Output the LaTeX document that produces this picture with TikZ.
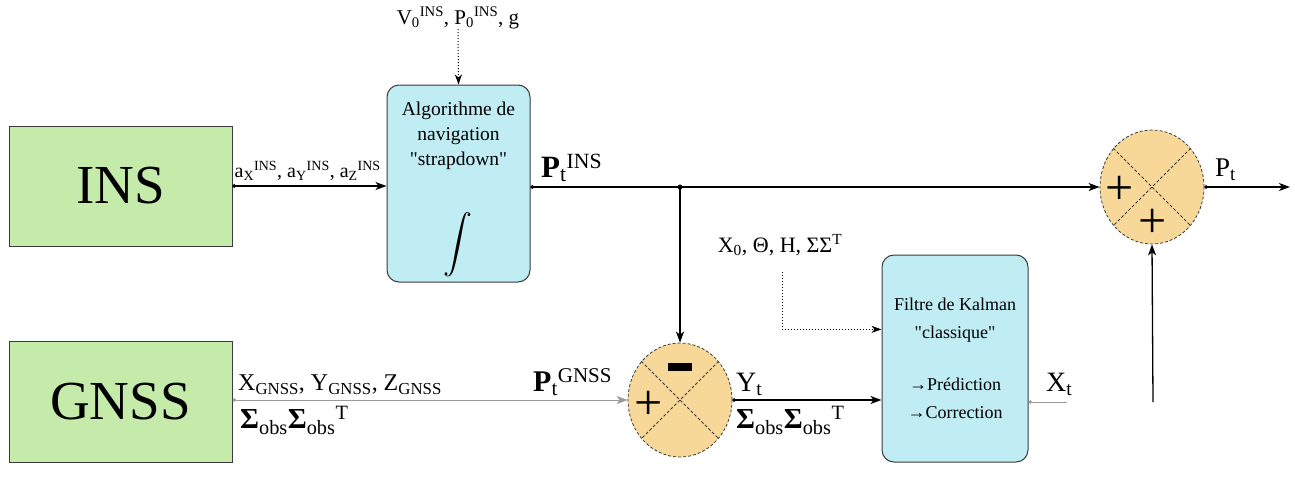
\documentclass[tikz,border=0pt]{standalone}
\usepackage{fontspec}
\setmainfont{Liberation Serif}
\usepackage{graphicx}
\usepackage{tikz}
\usetikzlibrary{
    arrows.meta,
    positioning,
    shapes.geometric,
    calc
}
\definecolor{sensorgreen}{HTML}{C4EBAA}
\definecolor{blockblue}{HTML}{C0ECF3}
\definecolor{sumorange}{HTML}{F8D898}
\definecolor{borderdark}{HTML}{3A3A3A}
\definecolor{wiregray}{HTML}{9A9A9A}
\tikzset{
    sensor/.style={
        rectangle, draw=borderdark, fill=sensorgreen,
        line width=1pt, minimum width=223pt, minimum height=120pt,
        inner sep=0pt, font=\fontsize{55}{55}\selectfont
    },
    process/.style={
        rectangle, draw=borderdark, fill=blockblue,
        line width=1pt, rounded corners=12pt, align=center,
        inner sep=0pt, font=\fontsize{19.5}{25}\selectfont
    },
    summer/.style={
        ellipse, draw=borderdark, densely dashed, fill=sumorange,
        line width=0.8pt, minimum width=104pt, minimum height=114pt,
        inner sep=0pt
    },
    data flow/.style={
        {Circle[length=3.5pt]}-{Stealth[length=11pt, width=8pt, inset=3pt]},
        line width=1.3pt, color=#1
    },
    data flow/.default={black},
    plain flow/.style={
        -{Stealth[length=11pt, width=8pt, inset=3pt]}, line width=1.3pt
    },
    param flow/.style={
        -{Stealth[length=10pt, width=7pt, inset=3pt]}, dotted, line width=1pt
    },
    sig text/.style={inner sep=0pt, font=\fontsize{#1}{#1}\selectfont},
    sig text/.default={20},
    sign/.style={inner sep=0pt, font=\fontsize{50}{50}\selectfont},
}

\begin{document}
\begin{tikzpicture}[x=1pt, y=-1pt]
    \useasboundingbox (0,0) rectangle (1295,477);

    % Sensors
    \node[sensor] (ins) at (120.5,186) {INS};
    \node[sensor, minimum height=121pt] (gnss) at (120.5,401.5) {GNSS};

    % Navigation and filter blocks
    \node[process, minimum width=143pt, minimum height=197pt] (algo) at (458.5,183.5) {};
    \node[process, draw=none, fill=none, below=17pt of algo.north] (algotext)
        {Algorithme de\\navigation\\\textquotedbl strapdown\textquotedbl};
    \node[inner sep=0pt] (integral) at (458,245) {\scalebox{2.9}{$\displaystyle\int$}};
    \node[process, minimum width=146pt, minimum height=207pt,
          font=\fontsize{18}{28}\selectfont] (kalman) at (955,358.5)
        {Filtre de Kalman\\\textquotedbl classique\textquotedbl\\[24pt]→Prédiction\\→Correction};

    % Summing junctions
    \node[summer] (sumgnss) at (680,400) {};
    \node[summer] (sumout) at (1152,187) {};
    \foreach \s in {sumgnss, sumout} {
        \draw[densely dashed, line width=0.8pt, borderdark] (\s.45) -- (\s.225);
        \draw[densely dashed, line width=0.8pt, borderdark] (\s.135) -- (\s.315);
    }
    \node[sign] (gplus) at (649,405) {+};
    \node[inner sep=0pt] (gminus) at (680,367) {\rule{24pt}{8pt}};
    \node[sign] (oplusl) at (1120,190) {+};
    \node[sign] (oplusb) at (1153,223) {+};

    % Signal labels
    \node[sig text=21] (initlabel) at (458,18)
        {V\textsubscript{0}\textsuperscript{INS}, P\textsubscript{0}\textsuperscript{INS}, g};
    \node[sig text=20, above right=5pt and 2pt of ins.east] (acclabel)
        {a\textsubscript{X}\textsuperscript{INS}, a\textsubscript{Y}\textsuperscript{INS}, a\textsubscript{Z}\textsuperscript{INS}};
    \node[sig text=31, anchor=south west] (pinslabel) at (541,182)
        {\textbf{P}\textsubscript{t}\textsuperscript{INS}};
    \node[sig text=22] (kflabel) at (780,245)
        {X\textsubscript{0}, Θ, H, ΣΣ\textsuperscript{T}};
    \node[sig text=24, anchor=south west] (gnsslabel) at (238,395)
        {X\textsubscript{GNSS}, Y\textsubscript{GNSS}, Z\textsubscript{GNSS}};
    \node[sig text=29, anchor=north west] (covlabel) at (240,406)
        {\textbf{Σ}\textsubscript{obs}\textbf{Σ}\textsubscript{obs}\textsuperscript{T}};
    \node[sig text=30, anchor=south west] (pgnsslabel) at (533,396)
        {\textbf{P}\textsubscript{t}\textsuperscript{GNSS}};
    \node[sig text=28, anchor=south west] (ylabel) at (736,396) {Y\textsubscript{t}};
    \node[sig text=29, anchor=north west] (covylabel) at (736,406)
        {\textbf{Σ}\textsubscript{obs}\textbf{Σ}\textsubscript{obs}\textsuperscript{T}};
    \node[sig text=28, anchor=south west] (xlabel) at (1046,396) {X\textsubscript{t}};
    \node[sig text=27, anchor=south west] (plabel) at (1215,181) {P\textsubscript{t}};

    % Free ends
    \coordinate (split) at (sumgnss |- sumout);
    \coordinate (kfin) at (782,272);
    \coordinate (xout) at (1067,402);
    \coordinate (pin) at (1153,402);
    \coordinate (pout) at (1290,187);

    % Flows
    \draw[data flow] (ins.east) -- (ins.east -| algo.west);
    \draw[param flow] (initlabel.south) -- (algo.north);
    \draw[data flow] (algo.east |- sumout.west) -- (sumout.west);
    \fill (split) circle (2.5pt);
    \draw[plain flow] (split) -- (sumgnss.north);
    \draw[data flow=wiregray, line width=0.8pt] (gnss.east |- sumgnss.west) -- (sumgnss.west);
    \draw[data flow] (sumgnss.east) -- (sumgnss.east -| kalman.west);
    \draw[param flow] (kfin) |- ($(kalman.north west)!0.36!(kalman.south west)$);
    \draw[{Circle[length=3.5pt]}-, wiregray, line width=0.8pt] (kalman.east |- xout) -- (xout);
    \draw[plain flow] (pin) -- (sumout.south);
    \draw[data flow] (sumout.east) -- (pout);

\end{tikzpicture}
\end{document}
